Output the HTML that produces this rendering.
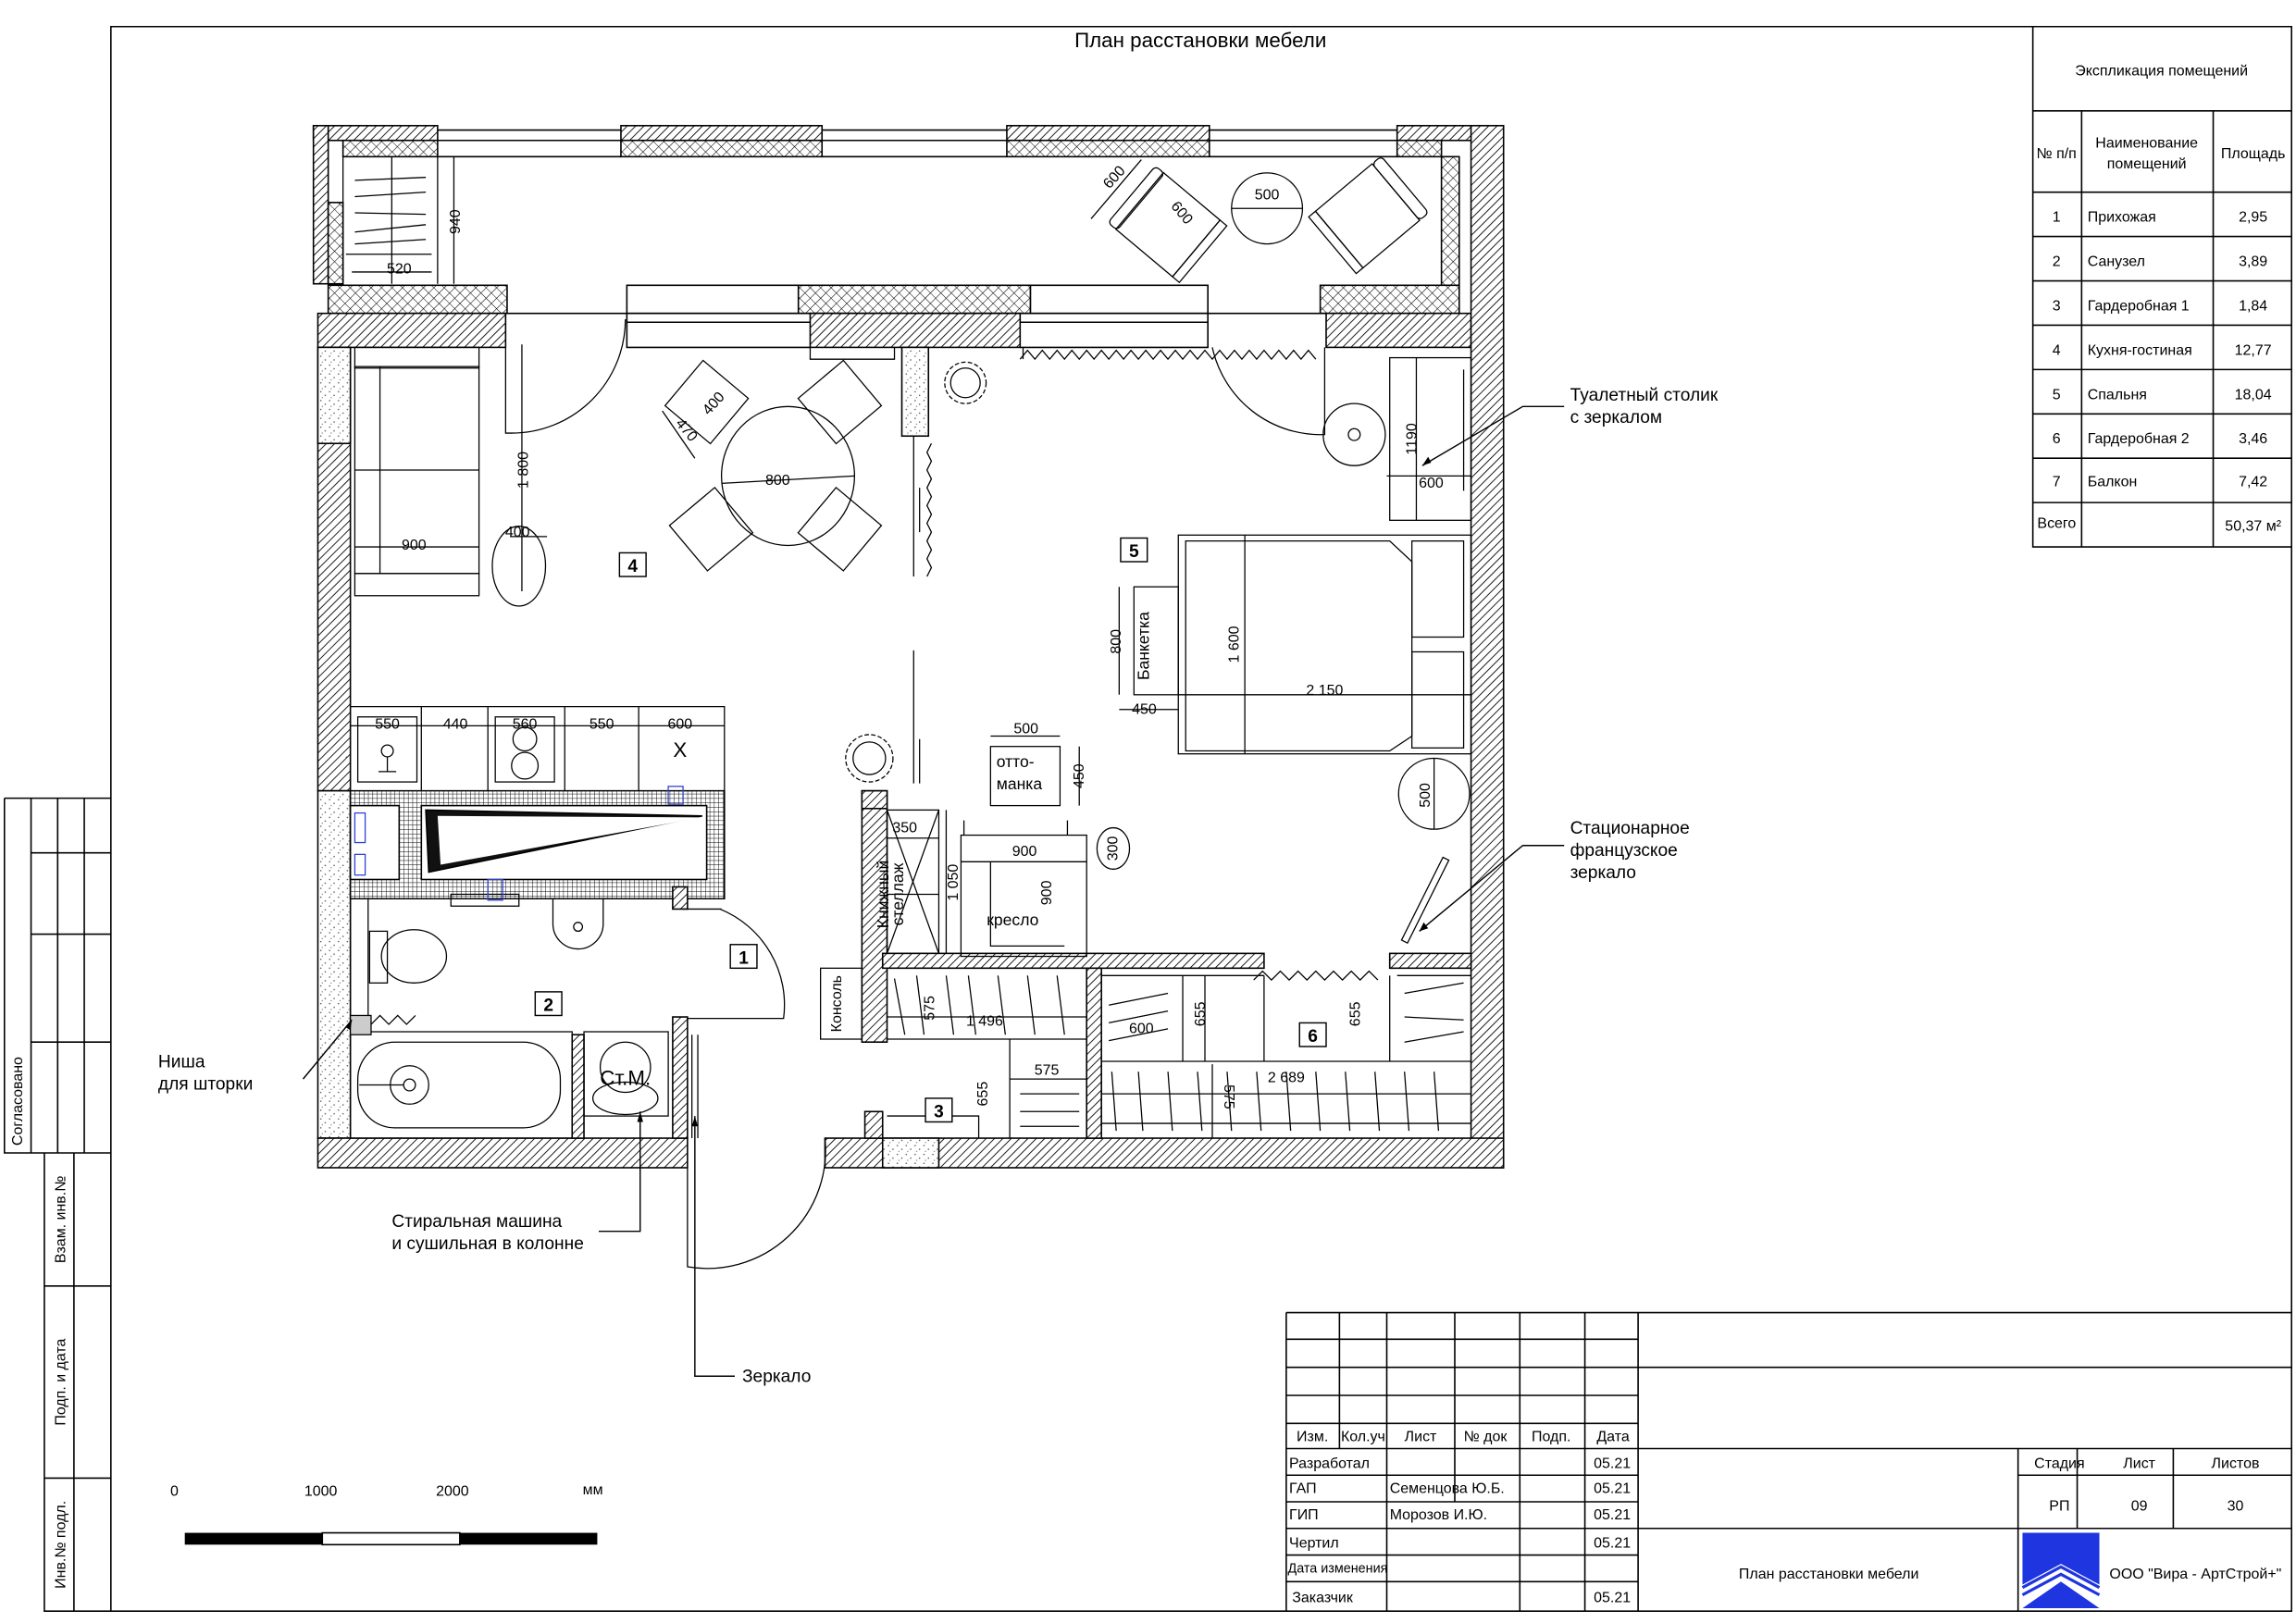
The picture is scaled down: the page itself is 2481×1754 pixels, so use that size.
<!DOCTYPE html>
<html><head><meta charset="utf-8"><style>
html,body{margin:0;padding:0;background:#fff;}
svg{display:block;}
text{font-family:"Liberation Sans","DejaVu Sans",sans-serif;fill:#000;}
</style></head><body>
<svg xmlns="http://www.w3.org/2000/svg" width="2481" height="1754" viewBox="0 0 1553 1098" preserveAspectRatio="none">
<defs>
<pattern id="h" patternUnits="userSpaceOnUse" width="4" height="4" patternTransform="rotate(45)"><rect width="4" height="4" fill="#fff"/><line x1="0" y1="0" x2="0" y2="4" stroke="#000" stroke-width="1.1"/></pattern>
<pattern id="x" patternUnits="userSpaceOnUse" width="5" height="5" patternTransform="rotate(45)"><rect width="5" height="5" fill="#fff"/><path d="M0 0V5M0 0H5" stroke="#000" stroke-width="0.7"/></pattern>
<pattern id="d" patternUnits="userSpaceOnUse" width="6" height="6"><rect width="6" height="6" fill="#fff"/><circle cx="1" cy="1" r="0.5" fill="#555"/><circle cx="4" cy="3.5" r="0.5" fill="#555"/><circle cx="2" cy="5" r="0.4" fill="#777"/></pattern>
<pattern id="t" patternUnits="userSpaceOnUse" width="3" height="3"><rect width="3" height="3" fill="#fff"/><path d="M0 0V3M0 0H3" stroke="#000" stroke-width="0.6"/></pattern>
</defs>
<g fill="none" stroke="#000" stroke-width="1">
<!-- frame -->
<path d="M75 18H1550V1090H75Z"/>
<!-- explication -->
<path d="M1375 18V370H1550M1375 75H1550M1375 130H1550M1375 160H1550M1375 190H1550M1375 220H1550M1375 250H1550M1375 280H1550M1375 310H1550M1375 340H1550M1408 75V370M1497 75V370"/>
<!-- left stamp -->
<path d="M3 540H75M3 540V780H75M21 540V780M39 540V780M57 540V780M21 577H75M21 632H75M21 705H75M30 780V1090H75M30 870H75M30 1000H75M50 780V1090"/>
<!-- title block -->
<path d="M870 888H1550M870 888V1090M870 906H1108M870 925H1550M870 944H1108M870 963H1108M870 980H1550M870 998H1108M870 1016H1108M870 1034H1550M870 1052H1108M870 1070H1108M906 888V980M938 888V1090M984 888V1016M1028 888V1090M1072 888V1090M1108 888V1090M1365 980V1090M1405 980V1034M1470 980V1034M1365 998H1550"/>
</g>
<polygon points="1368,1037 1420,1037 1420,1072 1394,1058 1368,1072" fill="#1f35e0"/>
<path d="M1368 1074L1394 1060L1420 1074M1368 1079L1394 1065L1420 1079" stroke="#1f35e0" stroke-width="2" fill="none"/>
<polygon points="1394,1070 1420,1088 1368,1088" fill="#1f35e0"/>

<!-- ===== WALLS ===== -->
<g stroke="#000" stroke-width="1">
<!-- balcony outer -->
<rect x="212" y="85" width="84" height="10" fill="url(#h)"/>
<rect x="420" y="85" width="136" height="10" fill="url(#h)"/>
<rect x="681" y="85" width="137" height="10" fill="url(#h)"/>
<rect x="945" y="85" width="72" height="10" fill="url(#h)"/>
<rect x="212" y="85" width="10" height="107" fill="url(#h)"/>
<rect x="232" y="95" width="64" height="11" fill="url(#x)"/>
<rect x="420" y="95" width="136" height="11" fill="url(#x)"/>
<rect x="681" y="95" width="137" height="11" fill="url(#x)"/>
<rect x="945" y="95" width="30" height="11" fill="url(#x)"/>
<rect x="222" y="137" width="10" height="55" fill="url(#x)"/>
<rect x="975" y="106" width="12" height="87" fill="url(#x)"/>
<path d="M296 88H420M296 95H420M296 106H420M556 88H681M556 95H681M556 106H681M818 88H945M818 95H945M818 106H945" fill="none"/>
<!-- balcony bottom crosshatch -->
<rect x="222" y="193" width="121" height="19" fill="url(#x)"/>
<rect x="540" y="193" width="157" height="19" fill="url(#x)"/>
<rect x="893" y="193" width="94" height="19" fill="url(#x)"/>
<rect x="424" y="193" width="116" height="19" fill="#fff"/>
<rect x="697" y="193" width="120" height="19" fill="#fff"/>
<!-- main wall -->
<rect x="215" y="212" width="127" height="23" fill="url(#h)"/>
<rect x="548" y="212" width="142" height="23" fill="url(#h)"/>
<rect x="897" y="212" width="98" height="23" fill="url(#h)"/>
<path d="M342 212H897M424 218H548M690 218H817M424 212V235H548M690 235H817V212" fill="none"/>
<!-- right wall -->
<rect x="995" y="85" width="22" height="705" fill="url(#h)"/>
<!-- left wall -->
<rect x="215" y="235" width="22" height="300" fill="url(#h)"/>
<rect x="215" y="235" width="22" height="65" fill="url(#d)"/>
<rect x="215" y="535" width="22" height="235" fill="url(#d)"/>
<!-- bottom walls -->
<rect x="215" y="770" width="250" height="20" fill="url(#h)"/>
<rect x="558" y="770" width="459" height="20" fill="url(#h)"/>
<rect x="597" y="770" width="38" height="20" fill="url(#d)"/>
<!-- column -->
<rect x="610" y="235" width="18" height="60" fill="url(#d)"/>
<!-- bath/kitchen tiled partition -->
<path d="M237 535H490V608H237Z" fill="url(#t)"/>
<rect x="285" y="545" width="193" height="50" fill="#fff"/>
<polygon points="288,548 475,552 290,590" fill="#111"/>
<polygon points="296,552 475,553 298,585" fill="#fff" stroke="none"/>
<rect x="237" y="545" width="33" height="50" fill="#fff"/>
<!-- bathroom walls -->
<rect x="455" y="688" width="10" height="82" fill="url(#h)"/>
<rect x="455" y="600" width="10" height="15" fill="url(#h)"/>
<rect x="387" y="700" width="8" height="70" fill="url(#h)"/>
<!-- partition x583 -->
<rect x="583" y="535" width="17" height="170" fill="url(#h)"/>
<rect x="583" y="535" width="17" height="12" fill="url(#h)"/>
<!-- bedroom/wardrobe -->
<rect x="597" y="645" width="258" height="10" fill="url(#h)"/>
<rect x="940" y="645" width="55" height="10" fill="url(#h)"/>
<rect x="735" y="655" width="10" height="115" fill="url(#h)"/>
<rect x="585" y="752" width="12" height="18" fill="url(#h)"/>
</g>

<!-- ===== FURNITURE ===== -->
<g fill="none" stroke="#000" stroke-width="0.8">
<!-- balcony wardrobe -->
<path d="M232 106V192M265 106V192M296 106V192M238 184H292M234 172H292"/>
<path d="M240 122L288 120M240 133L288 130M240 144L288 145M240 157L288 152M240 165L288 162"/>
<path d="M307 106V192"/>
<!-- armchairs balcony -->
<g transform="rotate(40 790 152)"><rect x="765" y="127" width="50" height="50"/><rect x="758" y="127" width="8" height="50" rx="3"/><rect x="815" y="127" width="6" height="50"/></g>
<path d="M738 148L772 108" />
<circle cx="857" cy="141" r="24"/><path d="M833 141H881"/>
<g transform="rotate(-40 925 146)"><rect x="900" y="121" width="50" height="50"/><rect x="950" y="121" width="8" height="50" rx="3"/><rect x="894" y="121" width="6" height="50"/></g>
<!-- sofa -->
<rect x="240" y="235" width="84" height="14"/>
<rect x="240" y="248" width="84" height="140"/>
<path d="M240 318H324M257 248V388"/>
<rect x="240" y="388" width="84" height="15"/>
<path d="M240 370H324"/>
<!-- doors -->
<path d="M342 235V293H346M346 293A77 77 0 0 0 423 216"/>
<path d="M353 233V400M345 363H370"/>
<ellipse cx="351" cy="383" rx="18" ry="27"/>
<path d="M820 235A75 75 0 0 0 896 294V235"/>
<circle cx="916" cy="294" r="21"/><circle cx="916" cy="294" r="4"/>
<!-- dining -->
<ellipse cx="533" cy="322" rx="45" ry="47"/><path d="M488 327L578 322"/>
<g transform="rotate(40 478 272)"><rect x="458" y="252" width="40" height="40"/></g>
<g transform="rotate(-40 568 272)"><rect x="548" y="252" width="40" height="40"/></g>
<g transform="rotate(-40 481 358)"><rect x="461" y="338" width="40" height="40"/></g>
<g transform="rotate(40 568 358)"><rect x="548" y="338" width="40" height="40"/></g>
<path d="M448 278L470 310"/>
<!-- plants -->
<circle cx="653" cy="259" r="14" stroke-dasharray="3 1.5"/><circle cx="653" cy="259" r="10"/>
<circle cx="588" cy="513" r="16" stroke-dasharray="3 1.5"/><circle cx="588" cy="513" r="11"/>
<!-- sliding partition -->
<path d="M618 295V390M622 330V360M618 440V530M622 500V530"/>
<path d="M630 300l-3 6l3 6l-3 6l3 6l-3 6l3 6l-3 6l3 6l-3 6l3 6l-3 6l3 6l-3 6l3 6l-3 6"/>
<path d="M690 243l5 -6l5 6l5 -6l5 6l5 -6l5 6l5 -6l5 6l5 -6l5 6l5 -6l5 6l5 -6l5 6l5 -6l5 6l5 -6l5 6l5 -6l5 6l5 -6l5 6l5 -6l5 6l5 -6l5 6l5 -6l5 6l5 -6l5 6l5 -6l5 6l5 -6l5 6l5 -6l5 6l5 -6l5 6l5 -6l5 6"/>
<path d="M548 235V243H605V235M692 235V243"/>
<!-- vanity -->
<rect x="940" y="242" width="55" height="110"/><path d="M958 242V352M938 322H995M990 250V332"/>
<!-- bed -->
<rect x="797" y="362" width="198" height="148"/>
<path d="M802 366H940L955 380V498L940 508H802Z"/>
<rect x="955" y="366" width="35" height="65"/><rect x="955" y="441" width="35" height="65"/>
<path d="M842 362V510M797 470H995"/>
<rect x="767" y="397" width="30" height="73"/><path d="M757 397V470M757 480H797"/>
<!-- ottoman -->
<rect x="670" y="505" width="47" height="40"/><path d="M670 498H717M730 505V545"/>
<circle cx="970" cy="537" r="24"/><path d="M970 513V561"/>
<ellipse cx="753" cy="574" rx="11" ry="14"/>
<!-- mirror -->
<path d="M952 638L980 582L976 580L948 636Z"/>
<!-- armchair -->
<rect x="650" y="565" width="85" height="82"/><path d="M650 583H735M670 583V640H720"/>
<path d="M652 555V565M722 555V565"/>
<!-- bookcase -->
<rect x="600" y="548" width="35" height="97"/><path d="M600 548L635 645M635 548L600 645M600 567H635M600 605H635"/>
<path d="M640 548V645"/>
<!-- console -->
<rect x="555" y="655" width="28" height="48"/>
<!-- kitchen -->
<path d="M237 478H490V535M237 491H490M285 478V535M330 478V535M382 478V535M432 478V535"/>
<rect x="242" y="485" width="40" height="44"/><circle cx="262" cy="508" r="4"/><path d="M262 512V522M256 522H268"/>
<rect x="335" y="485" width="40" height="44"/><circle cx="355" cy="500" r="8"/><circle cx="355" cy="518" r="9"/>
<!-- bathroom -->
<rect x="305" y="605" width="46" height="8"/>
<path d="M374 608V625A17 17 0 0 0 408 625V608"/>
<circle cx="391" cy="627" r="3"/>
<rect x="237" y="608" width="12" height="80"/>
<ellipse cx="280" cy="647" rx="22" ry="18"/><rect x="250" y="630" width="12" height="35"/>
<path d="M462 615H488M487 615A70 70 0 0 1 530 689H465"/>
<rect x="237" y="698" width="150" height="72"/>
<rect x="242" y="705" width="137" height="58" rx="25"/>
<circle cx="277" cy="734" r="13"/><circle cx="277" cy="734" r="4"/><path d="M243 734H273"/>
<rect x="237" y="687" width="14" height="13" fill="#ccc"/>
<path d="M251 693l6 -6l6 6l6 -6l6 6l6 -6"/>
<rect x="395" y="698" width="57" height="57"/>
<circle cx="423" cy="722" r="17"/><ellipse cx="423" cy="743" rx="22" ry="11"/>
<path d="M468 700V770M472 700V770"/>
<path d="M465 790V857A80 80 0 0 0 558 770"/>
<!-- wardrobe 1 -->
<path d="M600 655H735M600 688H735M600 703H735M683 703V770M683 730H735M600 755H662V770"/>
<path d="M605 662L612 700M620 660L625 700M640 660L645 700M655 660L660 700M675 660L680 700M695 660L700 700M715 660L720 700M690 740H730M690 752H730M690 762H730"/>
<!-- wardrobe 6 -->
<path d="M745 718H995M745 740H995M745 760H995M745 660H855M855 660V718M940 660V718M800 660V718M945 660H995"/>
<path d="M750 680L790 672M750 692L790 684M750 704L790 696M950 672L990 665M950 688L990 690M950 705L990 698"/>
<path d="M752 725L755 765M770 725L773 765M790 725L793 765M810 725L813 765M830 725L833 765M850 725L853 765M870 725L873 765M890 725L893 765M910 725L913 765M930 725L933 765M950 725L953 765M970 725L973 765"/>
<path d="M848 663l6 -6l6 6l6 -6l6 6l6 -6l6 6l6 -6l6 6l6 -6l6 6l6 -6l6 6l6 -6l6 6"/>
<path d="M820 720V770M815 660V718"/>
</g>
<!-- blue marks -->
<g fill="none" stroke="#3040d0" stroke-width="0.8"><rect x="452" y="532" width="10" height="12"/><rect x="330" y="595" width="10" height="14"/><rect x="240" y="550" width="7" height="20"/><rect x="240" y="578" width="7" height="14"/></g>

<!-- leaders -->
<g fill="none" stroke="#000" stroke-width="0.9">
<path d="M1058 275H1030L962 315"/>
<path d="M1058 572H1030L960 630"/>
<path d="M205 730L238 690"/>
<path d="M405 833H433V752"/>
<path d="M497 931H470V755"/>
</g>
<g fill="#000"><path d="M962 315l4 -6l2 4Z"/><path d="M960 630l3 -6l3 4Z"/><path d="M238 690l-1 7l-3 -2Z"/><path d="M433 752l-2 7h4Z"/><path d="M470 755l-2 7h4Z"/></g>

<!-- scale bar -->
<rect x="125" y="1037" width="93" height="8" fill="#000"/>
<rect x="218" y="1037" width="93" height="8" fill="#fff" stroke="#000"/>
<rect x="311" y="1037" width="93" height="8" fill="#000"/>

<!-- room numbers -->
<g fill="#fff" stroke="#000" stroke-width="0.9"><rect x="419" y="374" width="18" height="16"/><rect x="758" y="364" width="18" height="16"/><rect x="494" y="639" width="18" height="16"/><rect x="362" y="671" width="18" height="16"/><rect x="626" y="743" width="18" height="16"/><rect x="879" y="692" width="18" height="16"/></g>
<g font-size="12" font-weight="bold" text-anchor="middle"><text x="428" y="387">4</text><text x="767" y="377">5</text><text x="503" y="652">1</text><text x="371" y="684">2</text><text x="635" y="756">3</text><text x="888" y="705">6</text></g>

<!-- texts -->
<g font-size="10">
<text x="812" y="32" font-size="14" text-anchor="middle">План расстановки мебели</text>
<g text-anchor="middle">
<text x="1462" y="51">Экспликация помещений</text>
<text x="1452" y="100">Наименование</text><text x="1452" y="114">помещений</text>
<text x="1391" y="107">№ п/п</text><text x="1524" y="107">Площадь</text>
<text x="1391" y="150">1</text><text x="1391" y="180">2</text><text x="1391" y="210">3</text><text x="1391" y="240">4</text><text x="1391" y="270">5</text><text x="1391" y="300">6</text><text x="1391" y="329">7</text>
<text x="1524" y="150">2,95</text><text x="1524" y="180">3,89</text><text x="1524" y="210">1,84</text><text x="1524" y="240">12,77</text><text x="1524" y="270">18,04</text><text x="1524" y="300">3,46</text><text x="1524" y="329">7,42</text><text x="1524" y="359">50,37 м²</text>
</g>
<text x="1412" y="150">Прихожая</text><text x="1412" y="180">Санузел</text><text x="1412" y="210">Гардеробная 1</text><text x="1412" y="240">Кухня-гостиная</text><text x="1412" y="270">Спальня</text><text x="1412" y="300">Гардеробная 2</text><text x="1412" y="329">Балкон</text><text x="1378" y="357">Всего</text>

<text x="1062" y="271" font-size="12">Туалетный столик</text><text x="1062" y="286" font-size="12">с зеркалом</text>
<text x="1062" y="564" font-size="12">Стационарное</text><text x="1062" y="579" font-size="12">французское</text><text x="1062" y="594" font-size="12">зеркало</text>
<text x="107" y="722" font-size="12">Ниша</text><text x="107" y="737" font-size="12">для шторки</text>
<text x="265" y="830" font-size="12">Стиральная машина</text><text x="265" y="845" font-size="12">и сушильная в колонне</text>
<text x="502" y="935" font-size="12">Зеркало</text>

<text x="118" y="1012" text-anchor="middle">0</text><text x="217" y="1012" text-anchor="middle">1000</text><text x="306" y="1012" text-anchor="middle">2000</text><text x="401" y="1011" text-anchor="middle">мм</text>

<text x="15" y="745" transform="rotate(-90 15 745)" text-anchor="middle">Согласовано</text>
<text x="44" y="825" transform="rotate(-90 44 825)" text-anchor="middle">Взам. инв.№</text>
<text x="44" y="935" transform="rotate(-90 44 935)" text-anchor="middle">Подп. и дата</text>
<text x="44" y="1045" transform="rotate(-90 44 1045)" text-anchor="middle">Инв.№ подл.</text>

<text x="877" y="975">Изм.</text><text x="907" y="975">Кол.уч</text><text x="950" y="975">Лист</text><text x="990" y="975">№ док</text><text x="1036" y="975">Подп.</text><text x="1080" y="975">Дата</text>
<text x="872" y="993">Разработал</text><text x="872" y="1010">ГАП</text><text x="872" y="1028">ГИП</text><text x="872" y="1047">Чертил</text><text x="871" y="1064" font-size="9">Дата изменения</text><text x="874" y="1084">Заказчик</text>
<text x="940" y="1010">Семенцова Ю.Б.</text><text x="940" y="1028">Морозов И.Ю.</text>
<text x="1078" y="993">05.21</text><text x="1078" y="1010">05.21</text><text x="1078" y="1028">05.21</text><text x="1078" y="1047">05.21</text><text x="1078" y="1084">05.21</text>
<g text-anchor="middle"><text x="1393" y="993">Стадия</text><text x="1447" y="993">Лист</text><text x="1512" y="993">Листов</text><text x="1393" y="1022">РП</text><text x="1447" y="1022">09</text><text x="1512" y="1022">30</text>
<text x="1237" y="1068">План расстановки мебели</text><text x="1485" y="1068">ООО "Вира - АртСтрой+"</text></g>

<!-- dimensions -->
<g text-anchor="middle">
<text x="270" y="185">520</text><text x="311" y="150" transform="rotate(-90 311 150)">940</text>
<text x="280" y="372">900</text><text x="350" y="363">400</text><text x="357" y="318" transform="rotate(-90 357 318)">1 800</text>
<text x="526" y="328">800</text><text x="485" y="275" transform="rotate(-48 485 275)">400</text><text x="462" y="293" transform="rotate(50 462 293)">470</text>
<text x="756" y="122" transform="rotate(-48 756 122)">600</text><text x="797" y="146" transform="rotate(50 797 146)">600</text><text x="857" y="135">500</text>
<text x="958" y="297" transform="rotate(-90 958 297)">1190</text><text x="968" y="330">600</text>
<text x="838" y="436" transform="rotate(-90 838 436)">1 600</text><text x="896" y="470">2 150</text>
<text x="758" y="434" transform="rotate(-90 758 434)">800</text><text x="777" y="437" transform="rotate(-90 777 437)" font-size="11">Банкетка</text><text x="774" y="483">450</text>
<text x="694" y="496">500</text><text x="733" y="525" transform="rotate(-90 733 525)">450</text>
<text x="674" y="519" text-anchor="start" font-size="11">отто-</text><text x="674" y="534" text-anchor="start" font-size="11">манка</text>
<text x="967" y="538" transform="rotate(-90 967 538)">500</text><text x="756" y="574" transform="rotate(-90 756 574)">300</text>
<text x="693" y="579">900</text><text x="711" y="604" transform="rotate(-90 711 604)">900</text><text x="685" y="626" font-size="11">кресло</text>
<text x="612" y="563">350</text><text x="648" y="597" transform="rotate(-90 648 597)">1 050</text>
<text x="601" y="605" transform="rotate(-90 601 605)" font-size="11">Книжный</text><text x="611" y="605" transform="rotate(-90 611 605)" font-size="11">стеллаж</text>
<text x="569" y="679" transform="rotate(-90 569 679)" font-size="10">Консоль</text>
<text x="632" y="682" transform="rotate(-90 632 682)">575</text><text x="666" y="694">1 496</text>
<text x="708" y="727">575</text><text x="668" y="740" transform="rotate(-90 668 740)">655</text>
<text x="772" y="699">600</text><text x="815" y="686" transform="rotate(-90 815 686)">655</text><text x="920" y="686" transform="rotate(-90 920 686)">655</text>
<text x="870" y="732">2 689</text><text x="828" y="742" transform="rotate(90 828 742)">575</text>
<text x="262" y="493">550</text><text x="308" y="493">440</text><text x="355" y="493">560</text><text x="407" y="493">550</text><text x="460" y="493">600</text>
<text x="460" y="512" font-size="14">X</text>
<text x="423" y="734" font-size="14">Ст.М.</text>
</g>
</g>
</svg>
</body></html>
